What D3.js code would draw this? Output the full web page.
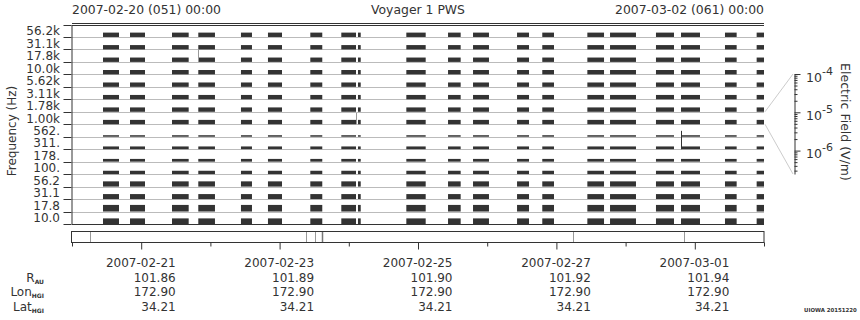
<!DOCTYPE html>
<html>
<head>
<meta charset="utf-8">
<script src="https://cdn.jsdelivr.net/npm/d3@7"></script>
<style>
  body { margin: 0; background: #fff; }
  text { font-family: "DejaVu Sans", sans-serif; fill: #333; }
</style>
</head>
<body>
<div class="spec"></div>
<script>
var svgWidth = 860;
var svgHeight = 320;

// frequency channels, top to bottom
var freqLabels = ["56.2k", "31.1k", "17.8k", "10.0k", "5.62k", "3.11k", "1.78k", "1.00k",
  "562.", "311.", "178.", "100.", "56.2", "31.1", "17.8", "10.0"];
// relative intensity seen in each channel (fraction of the row)
var channelLevel = [0.35, 0.35, 0.35, 0.35, 0.35, 0.35, 0.35, 0.35,
  0.12, 0.22, 0.22, 0.27, 0.42, 0.4, 0.53, 0.45];

// data segments (UT)
var segStart = ["2007-02-20 10:45", "2007-02-20 20:07", "2007-02-21 10:41", "2007-02-21 19:48",
  "2007-02-22 10:36", "2007-02-22 19:58", "2007-02-23 10:39", "2007-02-23 21:24",
  "2007-02-24 03:11", "2007-02-24 19:57", "2007-02-25 10:25", "2007-02-25 19:05",
  "2007-02-26 10:21", "2007-02-26 19:06", "2007-02-27 10:44", "2007-02-27 18:36",
  "2007-02-28 10:32", "2007-02-28 19:13", "2007-03-01 10:28", "2007-03-01 21:27"];
var segEnd = ["2007-02-20 16:18", "2007-02-21 01:19", "2007-02-21 16:28", "2007-02-22 01:35",
  "2007-02-22 14:25", "2007-02-23 00:50", "2007-02-23 14:48", "2007-02-24 02:30",
  "2007-02-24 04:08", "2007-02-25 02:40", "2007-02-25 14:48", "2007-02-26 00:37",
  "2007-02-26 14:30", "2007-02-26 23:10", "2007-02-27 16:31", "2007-02-28 03:36",
  "2007-02-28 16:47", "2007-03-01 01:48", "2007-03-01 14:31", "2007-03-02 00:00"];

// isolated spikes
var spikeTimes = ["2007-02-21 19:48", "2007-02-24 02:30", "2007-02-28 19:13"];
var spikeChannel = [2, 7, 9];
var spikeLevel = [1.0, 0.9, 1.47];
var spikeDark = [false, false, true];

// marks in the strip below the spectrogram
var stripTimes = ["2007-02-20 06:15", "2007-02-23 09:10", "2007-02-23 12:17", "2007-02-23 14:40",
  "2007-02-27 05:47", "2007-02-28 20:24"];

// labelled ticks and ephemeris
var tickDates = ["2007-02-21", "2007-02-23", "2007-02-25", "2007-02-27", "2007-03-01"];
var rAU = ["101.86", "101.89", "101.90", "101.92", "101.94"];
var lonHGI = ["172.90", "172.90", "172.90", "172.90", "172.90"];
var latHGI = ["34.21", "34.21", "34.21", "34.21", "34.21"];

// colour bar
var cbarTicks = [1e-4, 1e-5, 1e-6];
var cbarExp = ["-4", "-5", "-6"];

var parseTime = d3.utcParse("%Y-%m-%d %H:%M");
var parseDay = d3.utcParse("%Y-%m-%d");

var plot = { left: 72, right: 764, top: 24.5, bottom: 224 };

var svg = d3.select(".spec")
  .append("svg")
  .attr("width", svgWidth)
  .attr("height", svgHeight);

var xTime = d3.scaleUtc()
  .domain([parseTime("2007-02-20 00:00"), parseTime("2007-03-02 00:00")])
  .range([plot.left, plot.right]);

var yChan = d3.scaleLinear()
  .domain([0, freqLabels.length])
  .range([plot.top, plot.bottom]);

var rowH = yChan(1) - yChan(0);
var levelScale = d3.scaleLinear().domain([0, 1]).range([0, rowH]);

// titles
svg.append("text").attr("x", plot.left).attr("y", 14).style("font-size", "12.4px")
  .text("2007-02-20 (051) 00:00");
svg.append("text").attr("x", (plot.left + plot.right) / 2).attr("y", 14)
  .attr("text-anchor", "middle").style("font-size", "12.4px").text("Voyager 1 PWS");
svg.append("text").attr("x", plot.right).attr("y", 14).attr("text-anchor", "end")
  .style("font-size", "12.4px").text("2007-03-02 (061) 00:00");

// channel baselines
svg.append("g").selectAll("line")
  .data(freqLabels)
  .enter()
  .append("line")
  .attr("x1", plot.left)
  .attr("x2", plot.right)
  .attr("y1", (d, i) => Math.round(yChan(i + 1)) + 0.5)
  .attr("y2", (d, i) => Math.round(yChan(i + 1)) + 0.5)
  .attr("stroke", "#bbb");

// data blocks per channel
var chanGroups = svg.append("g").selectAll("g")
  .data(freqLabels)
  .enter()
  .append("g");

chanGroups.each(function(label, ci) {
  var h = levelScale(channelLevel[ci]);
  var base = yChan(ci + 1);
  d3.select(this).selectAll("rect")
    .data(segStart)
    .enter()
    .append("rect")
    .attr("x", (d, i) => xTime(parseTime(d)))
    .attr("width", (d, i) => xTime(parseTime(segEnd[i])) - xTime(parseTime(d)))
    .attr("y", base - h)
    .attr("height", h)
    .attr("fill", "#333");
});

// spikes
svg.append("g").selectAll("line")
  .data(spikeTimes)
  .enter()
  .append("line")
  .attr("x1", d => Math.round(xTime(parseTime(d))) + 0.5)
  .attr("x2", d => Math.round(xTime(parseTime(d))) + 0.5)
  .attr("y1", (d, i) => yChan(spikeChannel[i] + 1))
  .attr("y2", (d, i) => yChan(spikeChannel[i] + 1) - levelScale(spikeLevel[i]))
  .attr("stroke", (d, i) => spikeDark[i] ? "#333" : "#999");

// frame: double top line, bottom line
svg.append("line").attr("x1", plot.left).attr("x2", plot.right).attr("y1", 23.5).attr("y2", 23.5).attr("stroke", "#333");
svg.append("line").attr("x1", plot.left).attr("x2", plot.right).attr("y1", 25.5).attr("y2", 25.5).attr("stroke", "#333");
svg.append("line").attr("x1", plot.left).attr("x2", plot.right).attr("y1", 224.5).attr("y2", 224.5).attr("stroke", "#333");

var leftAxis = d3.axisLeft(yChan)
  .tickValues(d3.range(freqLabels.length + 1))
  .tickFormat("")
  .tickSize(8)
  .tickSizeOuter(0);

var yAxis = svg.append("g")
  .attr("transform", `translate(${plot.left - 0.5}, 0)`)
  .call(leftAxis);
yAxis.selectAll("path, line").attr("stroke", "#333");
yAxis.selectAll(".tick").attr("transform", d => `translate(0, ${Math.round(yChan(d)) + 0.5})`);

svg.append("g").selectAll("text")
  .data(freqLabels)
  .enter()
  .append("text")
  .attr("x", 60)
  .attr("y", (d, i) => yChan(i + 0.5) + 4.5)
  .attr("text-anchor", "end")
  .style("font-size", "12px")
  .text(d => d);

svg.append("text")
  .attr("transform", "translate(16, 131) rotate(-90)")
  .attr("text-anchor", "middle")
  .style("font-size", "12px")
  .text("Frequency (Hz)");

// strip under the spectrogram
svg.append("rect")
  .attr("x", plot.left - 0.5).attr("y", 231.5)
  .attr("width", plot.right - plot.left + 0.5).attr("height", 11)
  .attr("fill", "none").attr("stroke", "#333");

svg.append("g").selectAll("line")
  .data(stripTimes)
  .enter()
  .append("line")
  .attr("x1", d => Math.round(xTime(parseTime(d))) + 0.5)
  .attr("x2", d => Math.round(xTime(parseTime(d))) + 0.5)
  .attr("y1", 232)
  .attr("y2", 242)
  .attr("stroke", (d, i) => i === 3 ? "#777" : "#999")
  .attr("stroke-width", (d, i) => i === 3 ? 1.5 : 1);

// time axis, one tick per day, labelled ones longer
var labelled = tickDates.map(d => +parseDay(d));
var bottomAxis = d3.axisBottom(xTime)
  .ticks(d3.utcDay.every(1))
  .tickFormat("")
  .tickSizeOuter(0);

var xAxis = svg.append("g")
  .attr("transform", "translate(0, 242.5)")
  .call(bottomAxis);
xAxis.select(".domain").remove();
xAxis.selectAll(".tick line")
  .attr("stroke", "#333")
  .attr("y2", d => labelled.indexOf(+d) >= 0 ? 7 : 4);

// date labels and ephemeris rows
var rows = [
  { vals: tickDates, y: 266.5 },
  { vals: rAU, y: 281.5 },
  { vals: lonHGI, y: 296 },
  { vals: latHGI, y: 310.5 }
];

rows.forEach(function(row) {
  svg.append("g").selectAll("text")
    .data(row.vals)
    .enter()
    .append("text")
    .attr("x", (d, i) => xTime(parseDay(tickDates[i])) + 34.5)
    .attr("y", row.y)
    .attr("text-anchor", "end")
    .style("font-size", "12px")
    .text(d => d);
});

var rowNames = [["R", "AU"], ["Lon", "HGI"], ["Lat", "HGI"]];
rowNames.forEach(function(n, i) {
  var t = svg.append("text")
    .attr("x", 44)
    .attr("y", rows[i + 1].y)
    .attr("text-anchor", "end")
    .style("font-size", "12px");
  t.append("tspan").text(n[0]);
  t.append("tspan").attr("dy", 2).style("font-size", "6px").style("font-weight", "bold").text(n[1]);
});

// colour bar axis
var cScale = d3.scaleLog()
  .domain([1e-4, 2.45e-7])
  .range([74, 174]);

var cAxis = d3.axisRight(cScale)
  .ticks(10, "")
  .tickFormat("")
  .tickSize(3)
  .tickSizeOuter(0);

var cbar = svg.append("g")
  .attr("transform", "translate(794.5, 0)")
  .call(cAxis);
cbar.selectAll("path, line").attr("stroke", "#333");
cbar.selectAll(".tick line")
  .attr("x2", d => cbarTicks.some(t => Math.abs(t - d) / t < 1e-6) ? 6 : 3);

cbarTicks.forEach(function(t, i) {
  var lbl = svg.append("text")
    .attr("x", 806)
    .attr("y", cScale(t) + 7.5)
    .style("font-size", "12.5px");
  lbl.append("tspan").text("10");
  lbl.append("tspan").attr("dy", -7).style("font-size", "11px").text(cbarExp[i]);
});

// connector lines from the 1.00k channel to the colour bar
svg.append("line").attr("x1", plot.right + 1).attr("y1", yChan(7)).attr("x2", 793).attr("y2", 74).attr("stroke", "#ccc");
svg.append("line").attr("x1", plot.right + 1).attr("y1", yChan(8)).attr("x2", 793).attr("y2", 174).attr("stroke", "#ccc");

svg.append("text")
  .attr("transform", "translate(841, 122) rotate(90)")
  .attr("text-anchor", "middle")
  .style("font-size", "12.5px")
  .text("Electric Field (V/m)");

svg.append("text")
  .attr("x", 804)
  .attr("y", 311.5)
  .style("font-size", "5.4px")
  .style("font-weight", "bold")
  .text("UIOWA 20151220");
</script>
</body>
</html>
